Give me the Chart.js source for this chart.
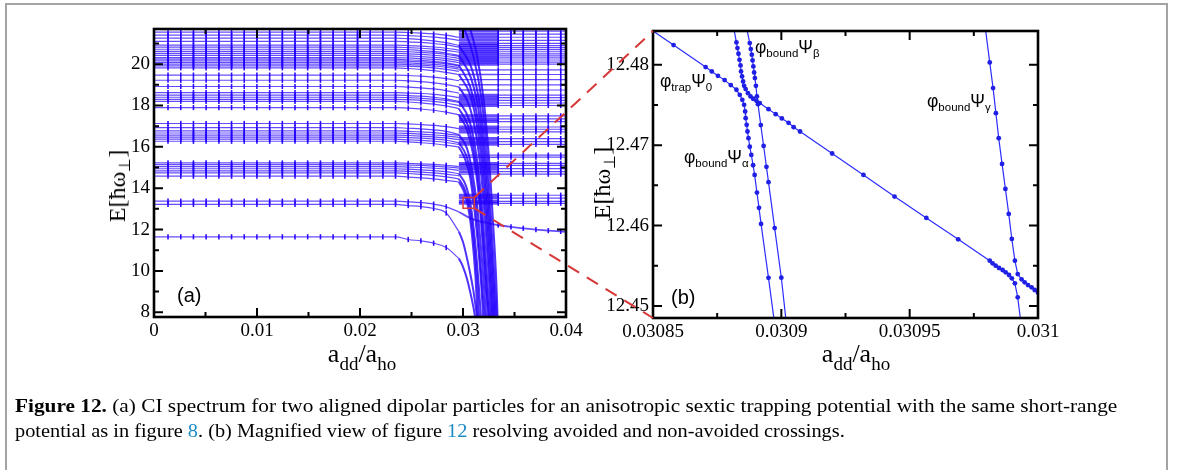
<!DOCTYPE html>
<html>
<head>
<meta charset="utf-8">
<script src="https://cdn.jsdelivr.net/npm/chart.js"></script>
<style>
body { margin:0; background:#fff; width:1179px; height:470px; overflow:hidden; position:relative; font-family:"Liberation Serif", serif; }
#frame { position:absolute; left:5px; top:3px; width:1159px; height:490px; border:2px solid #a3a3a3; border-bottom:none; }
canvas { position:absolute; top:0; }
.t { position:absolute; white-space:nowrap; line-height:1; color:#000; }
.ttl { font-size:26px; transform:translateX(-50%); }
.ttl sub { font-size:19px; vertical-align:-8px; }
.ytl { font-size:24px; transform:translate(-50%,-50%) rotate(-90deg); }
.ytl sub { font-size:16px; vertical-align:-5px; }
.lab { font-family:"Liberation Sans", sans-serif; font-size:17.5px; }
.lab sub { font-size:11.5px; vertical-align:-4px; }
.pl { font-family:"Liberation Sans", sans-serif; font-size:20px; }
#caption { position:absolute; left:15px; top:394px; font-size:18.5px; line-height:25px; }
#caption .ln { display:inline-block; white-space:nowrap; transform-origin:0 0; }
#caption .ref { color:#1b8bc4; }
</style>
</head>
<body>
<div id="frame"></div>
<canvas id="ca" width="600" height="370" style="left:0"></canvas>
<canvas id="cb" width="579" height="370" style="left:600px"></canvas>
<canvas id="ov" width="1179" height="470" style="left:0;pointer-events:none"></canvas>

<div class="t ytl" style="left:119px;top:186px">E[ħω<sub>⊥</sub>]</div>
<div class="t ytl" style="left:604px;top:183px">E[ħω<sub>⊥</sub>]</div>
<div class="t ttl" style="left:362px;top:341px">a<sub>dd</sub>/a<sub>ho</sub></div>
<div class="t ttl" style="left:856px;top:341px">a<sub>dd</sub>/a<sub>ho</sub></div>
<div class="t pl" style="left:177px;top:285px">(a)</div>
<div class="t pl" style="left:671px;top:287px">(b)</div>
<div class="t lab" style="left:660px;top:73px">φ<sub>trap</sub>Ψ<sub>0</sub></div>
<div class="t lab" style="left:755px;top:39px">φ<sub>bound</sub>Ψ<sub>β</sub></div>
<div class="t lab" style="left:684px;top:149px">φ<sub>bound</sub>Ψ<sub>α</sub></div>
<div class="t lab" style="left:927px;top:93px">φ<sub>bound</sub>Ψ<sub>γ</sub></div>

<div id="caption">
<span class="ln" data-w="1102"><b>Figure 12.</b> (a) CI spectrum for two aligned dipolar particles for an anisotropic sextic trapping potential with the same short-range</span><br>
<span class="ln" data-w="830">potential as in figure <span class="ref">8</span>. (b) Magnified view of figure <span class="ref">12</span> resolving avoided and non-avoided crossings.</span>
</div>

<script>
// ---------- panel (a) : CI spectrum ----------
// x positions of the marker columns
const colsLeft = [0, 0.00136, 0.0026, 0.00383, 0.00506, 0.0063, 0.00753, 0.00876, 0.00999, 0.01123, 0.01246,
  0.01369, 0.01492, 0.01616, 0.01739, 0.01853, 0.01976, 0.02099, 0.02222, 0.02345];
const tailX = [0.02468, 0.02591, 0.02715, 0.02837, 0.0296];
const colsRight = [0.0296, 0.03342, 0.03466, 0.03585, 0.03708, 0.03828, 0.03949, 0.0401];

// left levels: [E at x=0, then E at each tailX]
const band12 = [[11.65, 11.52, 11.45, 11.34, 11.13, 10.6]];
const band13 = [[13.22, 13.16, 13.11, 13.02, 12.8, 11.9], [13.37, 13.34, 13.3, 13.23, 13.1, 12.85]];
const band15 = [[14.58, 14.54, 14.5, 14.45, 14.38, 14.3], [14.74, 14.71, 14.67, 14.62, 14.55, 14.45],
  [14.84, 14.81, 14.78, 14.74, 14.68, 14.6], [14.94, 14.92, 14.89, 14.85, 14.8, 14.7],
  [15.04, 15.02, 15.0, 14.97, 14.93, 14.86], [15.14, 15.12, 15.1, 15.07, 15.03, 14.97],
  [15.22, 15.2, 15.18, 15.15, 15.11, 15.05]];
const band17 = [[16.27, 16.24, 16.2, 16.15, 16.08, 16.0], [16.37, 16.34, 16.31, 16.27, 16.21, 16.12],
  [16.47, 16.45, 16.42, 16.38, 16.32, 16.2], [16.57, 16.55, 16.52, 16.48, 16.43, 16.35],
  [16.67, 16.65, 16.62, 16.58, 16.53, 16.45], [16.77, 16.75, 16.72, 16.69, 16.63, 16.55],
  [16.93, 16.9, 16.87, 16.82, 16.75, 16.6], [17.13, 17.11, 17.08, 17.04, 16.98, 16.88]];
const band18 = [[17.9, 17.87, 17.83, 17.77, 17.68, 17.55], [18.2, 18.17, 18.13, 18.07, 17.98, 17.85],
  [18.3, 18.28, 18.25, 18.2, 18.12, 18.0], [18.4, 18.38, 18.35, 18.31, 18.25, 18.15],
  [18.5, 18.48, 18.45, 18.4, 18.32, 18.2], [18.62, 18.6, 18.58, 18.54, 18.48, 18.38],
  [18.92, 18.89, 18.85, 18.8, 18.72, 18.6], [19.22, 19.19, 19.15, 19.09, 19.01, 18.9],
  [19.47, 19.45, 19.42, 19.37, 19.3, 19.2]];
const band20 = [[19.82, 19.79, 19.75, 19.69, 19.6, 19.5], [19.92, 19.9, 19.87, 19.82, 19.75, 19.65],
  [20.0, 19.98, 19.95, 19.91, 19.85, 19.76], [20.08, 20.06, 20.03, 19.99, 19.93, 19.84],
  [20.16, 20.14, 20.11, 20.07, 20.01, 19.92], [20.24, 20.21, 20.18, 20.13, 20.06, 19.95],
  [20.32, 20.3, 20.27, 20.23, 20.17, 20.08], [20.42, 20.4, 20.37, 20.33, 20.27, 20.18],
  [20.52, 20.5, 20.47, 20.43, 20.37, 20.28], [20.62, 20.6, 20.57, 20.53, 20.47, 20.38],
  [20.72, 20.7, 20.66, 20.61, 20.54, 20.42], [20.82, 20.8, 20.77, 20.73, 20.67, 20.58],
  [20.92, 20.9, 20.87, 20.83, 20.77, 20.68], [21.1, 21.08, 21.05, 21.0, 20.93, 20.82],
  [21.26, 21.23, 21.19, 21.13, 21.04, 20.9], [21.4, 21.38, 21.35, 21.31, 21.25, 21.15],
  [21.55, 21.53, 21.5, 21.46, 21.4, 21.3]];

// levels right of the crossing region
const rightDense = [13.27, 13.36, 13.52, 13.66, 14.8, 14.95, 15.1, 15.2, 16.12, 16.25, 16.4, 16.72, 16.85, 16.96,
  17.22, 17.35, 17.5, 18.0, 18.12, 18.25, 18.38, 18.5, 20.0, 20.1, 20.2, 20.3, 20.4, 20.5, 20.6, 20.7, 20.8,
  20.9, 21.0, 21.15, 21.3, 21.45, 21.6];
const rightSparse = [14.68, 15.5, 15.6, 18.75, 19.0, 19.25, 19.5, 19.72];

// trap state after the crossings
const trapX = [0.0296, 0.031, 0.0325, 0.03342, 0.03466, 0.03585, 0.03708, 0.03828, 0.03949, 0.0401];
const trapY = [12.85, 12.49, 12.3, 12.22, 12.13, 12.06, 12.0, 11.95, 11.91, 11.89];

// diving bound states [x, E]
const dives = [
  [[0.0296, 10.6], [0.03, 10.2], [0.0304, 9.6], [0.0308, 8.75], [0.0311, 8.0], [0.0313, 7.3]],
  [[0.0296, 11.9], [0.03, 11.4], [0.0305, 10.36], [0.031, 9.07], [0.0313, 8.0], [0.0315, 7.3]],
  [[0.0296, 14.3], [0.0302, 13.7], [0.0306, 12.8], [0.0309, 11.6], [0.0312, 9.8], [0.03145, 7.4]],
  [[0.0296, 14.45], [0.0302, 13.9], [0.0307, 12.9], [0.0311, 11.2], [0.0314, 9.3], [0.0316, 7.4]],
  [[0.0296, 14.7], [0.0303, 14.1], [0.0308, 13.0], [0.0312, 11.3], [0.0315, 9.5], [0.0318, 7.4]],
  [[0.0296, 16.0], [0.0302, 15.4], [0.0307, 14.5], [0.0311, 13.0], [0.0315, 11.0], [0.0318, 9.1], [0.032, 7.4]],
  [[0.0296, 16.2], [0.0303, 15.6], [0.0308, 14.6], [0.0312, 13.2], [0.0316, 11.0], [0.0319, 9.0], [0.0322, 7.4]],
  [[0.0296, 16.6], [0.0304, 15.9], [0.0309, 14.8], [0.0314, 13.0], [0.0318, 10.8], [0.0321, 8.8], [0.0323, 7.4]],
  [[0.0296, 17.55], [0.0304, 16.8], [0.031, 15.6], [0.0315, 13.8], [0.0319, 11.4], [0.0322, 9.2], [0.0325, 7.4]],
  [[0.0296, 17.85], [0.0305, 17.0], [0.0311, 15.7], [0.0316, 13.8], [0.032, 11.3], [0.0323, 9.1], [0.0326, 7.4]],
  [[0.0296, 18.2], [0.0306, 17.3], [0.0312, 15.9], [0.0317, 13.9], [0.0321, 11.4], [0.0324, 9.2], [0.0327, 7.4]],
  [[0.0296, 18.9], [0.0306, 18.0], [0.0313, 16.5], [0.0318, 14.5], [0.0322, 12.0], [0.0326, 9.0], [0.0328, 7.4]],
  [[0.0296, 19.5], [0.0307, 18.5], [0.0314, 16.9], [0.0319, 14.8], [0.0323, 12.2], [0.0327, 9.1], [0.0329, 7.4]],
  [[0.0296, 19.95], [0.0307, 18.9], [0.0315, 17.2], [0.032, 15.0], [0.0324, 12.3], [0.0328, 9.1], [0.033, 7.4]],
  [[0.0296, 20.42], [0.0308, 19.3], [0.0316, 17.5], [0.0321, 15.2], [0.0325, 12.4], [0.0329, 9.2], [0.0331, 7.4]],
  [[0.0296, 20.9], [0.0309, 19.7], [0.0317, 17.8], [0.0322, 15.4], [0.0326, 12.5], [0.033, 9.2], [0.0332, 7.4]],
  [[0.03, 21.9], [0.031, 20.4], [0.0318, 18.3], [0.0323, 15.8], [0.0327, 12.7], [0.0331, 9.3], [0.0333, 7.4]],
  [[0.0306, 21.9], [0.0314, 20.3], [0.032, 18.3], [0.0325, 15.6], [0.0329, 12.5], [0.03325, 9.3], [0.03338, 7.4]]
];

// magnified region marker
const zoomBoxX = [0.03, 0.0311];
const zoomBoxY = [13.03, 13.55];

const xTicksA = [0, 0.01, 0.02, 0.03, 0.04];
const xMinorA = [0.005, 0.015, 0.025, 0.035];
const yTicksA = [8, 10, 12, 14, 16, 18, 20];
const yMinorA = [9, 11, 13, 15, 17, 19, 21];

// ---------- panel (b) : magnified view ----------
const curveAX = [0.030845, 0.030858, 0.0308705, 0.0308729, 0.0308753, 0.0308779, 0.0308803, 0.0308825, 0.0308838,
  0.0308848, 0.0308855, 0.0308859, 0.0308861, 0.0308865, 0.0308868, 0.0308872, 0.0308877, 0.0308883, 0.030889,
  0.0308896, 0.0308905, 0.0308913, 0.0308921, 0.030895, 0.0308975];
const curveAY = [12.4853, 12.48245, 12.47971, 12.47917, 12.47863, 12.47809, 12.47747, 12.47689, 12.47626,
  12.47564, 12.47502, 12.47419, 12.47336, 12.47253, 12.4717, 12.47087, 12.4698, 12.46879, 12.4675,
  12.4663, 12.4641, 12.4622, 12.4602, 12.4535, 12.4475];
const curveBX = [0.0308815, 0.0308825, 0.0308829, 0.0308833, 0.0308837, 0.0308841, 0.0308843, 0.0308847, 0.0308851,
  0.0308855, 0.0308861, 0.030887, 0.030888, 0.030889, 0.0308903, 0.0308916, 0.030895, 0.0308978, 0.0309002,
  0.0309028, 0.0309048, 0.0309073, 0.0309198, 0.030932, 0.0309441, 0.0309565, 0.0309689, 0.0309812, 0.0309823,
  0.0309835, 0.0309848, 0.0309862, 0.0309874, 0.0309887, 0.0309898, 0.030991, 0.0309921, 0.0309935];
const curveBY = [12.4845, 12.48278, 12.48208, 12.48137, 12.48062, 12.47992, 12.47917, 12.47855, 12.47792,
  12.47738, 12.47697, 12.47647, 12.47606, 12.47577, 12.47552, 12.47523, 12.47448, 12.47386, 12.47332,
  12.47278, 12.47224, 12.4717, 12.46896, 12.4663, 12.4636, 12.46095, 12.45829, 12.45563, 12.4553,
  12.45501, 12.45472, 12.45447, 12.45418, 12.45385, 12.45343, 12.45281, 12.45107, 12.4475];
const curveCX = [0.0309795, 0.0309812, 0.0309825, 0.0309836, 0.0309847, 0.030986, 0.0309873, 0.0309886, 0.0309898,
  0.030991, 0.0309921, 0.0309936, 0.0309948, 0.0309961, 0.0309975, 0.0309987, 0.031, 0.031006];
const curveCY = [12.4845, 12.48029, 12.4771, 12.47398, 12.47087, 12.46767, 12.46456, 12.46145, 12.45833,
  12.45563, 12.45397, 12.45331, 12.45294, 12.4526, 12.45231, 12.45198, 12.45165, 12.4515];
const betaX = [0.0308862, 0.0308877, 0.0308881, 0.0308885, 0.0308888, 0.0308891, 0.0308894, 0.0308897, 0.0308901,
  0.0308905, 0.0308909, 0.030892, 0.0308931, 0.0308942, 0.030895, 0.0308974, 0.0309, 0.030902];
const betaY = [12.485, 12.4827, 12.48195, 12.48125, 12.48054, 12.47979, 12.47905, 12.47834, 12.47738,
  12.47606, 12.4751, 12.4725, 12.4699, 12.4673, 12.4654, 12.45968, 12.45351, 12.4477];

const xTicksB = [0.03085, 0.0309, 0.03095, 0.031];
const xMinorB = [0.030875, 0.030925, 0.030975];
const yTicksB = [12.45, 12.46, 12.47, 12.48];
const yMinorB = [12.455, 12.465, 12.475];

// ---------- drawing ----------
const lineBlue = 'rgba(35,0,255,0.7)';
const markBlue = 'rgba(35,0,255,0.95)';
const tickFont = { family: 'Liberation Serif', size: 19 };

const setsA = [];
[band12, band13, band15, band17, band18, band20].forEach(band => band.forEach(row => {
  const data = colsLeft.map(x => ({ x, y: row[0] }));
  tailX.forEach((x, i) => data.push({ x, y: row[i + 1] }));
  const last = data.length - 1;
  setsA.push({ data, showLine: true, borderColor: lineBlue, borderWidth: 1.2, cubicInterpolationMode: 'monotone',
    pointStyle: 'line', pointRotation: 90, pointBorderColor: markBlue, pointBorderWidth: 1.6,
    pointRadius: c => (c.dataIndex === 0 || c.dataIndex === last) ? 0 : 2.6 });
}));
const rightSet = (e, w) => ({
  data: colsRight.map(x => ({ x, y: e })), showLine: true, borderColor: lineBlue, borderWidth: 1.2,
  segment: { borderWidth: c => c.p0DataIndex === 0 ? w : 1.2 },
  pointStyle: 'line', pointRotation: 90, pointBorderColor: markBlue, pointBorderWidth: 1.6,
  pointRadius: c => c.dataIndex === 0 ? 0 : 2.6
});
rightDense.forEach(e => setsA.push(rightSet(e, 3)));
rightSparse.forEach(e => setsA.push(rightSet(e, 1.4)));
setsA.push({ data: trapX.map((x, i) => ({ x, y: trapY[i] })), showLine: true, borderColor: lineBlue, borderWidth: 1.8,
  cubicInterpolationMode: 'monotone', pointStyle: 'line', pointRotation: 90, pointBorderColor: markBlue,
  pointBorderWidth: 1.6, pointRadius: c => c.dataIndex < 3 ? 0 : 2.6 });
dives.forEach(d => setsA.push({ data: d.map(p => ({ x: p[0], y: p[1] })), showLine: true, borderColor: 'rgba(35,0,255,0.8)',
  borderWidth: 2, cubicInterpolationMode: 'monotone', pointRadius: 0 }));

const frameTicks = {
  id: 'frameTicks',
  afterDatasetsDraw(chart, args, o) {
    const { ctx, chartArea: a, scales: { x, y } } = chart;
    ctx.save();
    ctx.strokeStyle = '#000';
    ctx.lineWidth = 2;
    ctx.beginPath();
    const vt = (vals, len) => vals.forEach(v => {
      const px = x.getPixelForValue(v);
      ctx.moveTo(px, a.bottom); ctx.lineTo(px, a.bottom - len);
      ctx.moveTo(px, a.top); ctx.lineTo(px, a.top + len);
    });
    const ht = (vals, len) => vals.forEach(v => {
      const py = y.getPixelForValue(v);
      ctx.moveTo(a.left, py); ctx.lineTo(a.left + len, py);
      ctx.moveTo(a.right, py); ctx.lineTo(a.right - len, py);
    });
    vt(o.xMajor, 9); vt(o.xMinor, 5); ht(o.yMajor, 9); ht(o.yMinor, 5);
    ctx.stroke();
    ctx.lineWidth = 2.6;
    ctx.strokeRect(a.left, a.top, a.right - a.left, a.bottom - a.top);
    ctx.restore();
  }
};
const zoomBox = {
  id: 'zoomBox',
  afterDatasetsDraw(chart) {
    const { ctx, scales: { x, y } } = chart;
    ctx.save();
    ctx.strokeStyle = 'rgb(220,60,60)';
    ctx.lineWidth = 1.5;
    const x0 = x.getPixelForValue(zoomBoxX[0]), x1 = x.getPixelForValue(zoomBoxX[1]);
    const y0 = y.getPixelForValue(zoomBoxY[1]), y1 = y.getPixelForValue(zoomBoxY[0]);
    ctx.strokeRect(x0, y0, x1 - x0, y1 - y0);
    ctx.restore();
  }
};

function axes(xMin, xMax, xT, yMin, yMax, yT, xh, yw) {
  return {
    x: { type: 'linear', min: xMin, max: xMax, grid: { display: false, drawTicks: false }, border: { display: false },
      ticks: { font: tickFont, color: '#000', padding: 3, maxRotation: 0, autoSkip: false, callback: v => String(v) },
      afterBuildTicks: s => { s.ticks = xT.map(v => ({ value: v })); },
      afterFit: s => { s.height = xh; } },
    y: { type: 'linear', min: yMin, max: yMax, grid: { display: false, drawTicks: false }, border: { display: false },
      ticks: { font: tickFont, color: '#000', padding: 4, autoSkip: false, callback: v => String(v) },
      afterBuildTicks: s => { s.ticks = yT.map(v => ({ value: v })); },
      afterFit: s => { s.width = yw; } }
  };
}

const chartA = new Chart(document.getElementById('ca'), {
  type: 'scatter',
  data: { datasets: setsA },
  options: {
    responsive: false, animation: false, events: [],
    layout: { padding: { left: 0, top: 29, right: 34, bottom: 0 } },
    plugins: { legend: { display: false }, tooltip: { enabled: false },
      frameTicks: { xMajor: xTicksA, xMinor: xMinorA, yMajor: yTicksA, yMinor: yMinorA } },
    scales: axes(0, 0.04, xTicksA, 7.77, 21.7, yTicksA, 53, 154)
  },
  plugins: [zoomBox, frameTicks]
});

const bLine = 'rgb(45,45,255)';
const dotSet = (xs, ys) => ({
  data: xs.map((x, i) => ({ x, y: ys[i] })), showLine: true, borderColor: bLine, borderWidth: 1.2,
  pointRadius: 2.4, pointBackgroundColor: '#1f1fe6', pointBorderWidth: 0
});
const chartB = new Chart(document.getElementById('cb'), {
  type: 'scatter',
  data: { datasets: [dotSet(curveAX, curveAY), dotSet(curveBX, curveBY), dotSet(curveCX, curveCY), dotSet(betaX, betaY)] },
  options: {
    responsive: false, animation: false, events: [],
    layout: { padding: { left: 0, top: 31, right: 141, bottom: 0 } },
    plugins: { legend: { display: false }, tooltip: { enabled: false },
      frameTicks: { xMajor: xTicksB, xMinor: xMinorB, yMajor: yTicksB, yMinor: yMinorB } },
    scales: axes(0.03085, 0.031, xTicksB, 12.4485, 12.4842, yTicksB, 52, 53)
  },
  plugins: [frameTicks]
});

// dashed connectors from the box in (a) to the corners of (b)
const g = document.getElementById('ov').getContext('2d');
const bx = chartA.scales.x.getPixelForValue(zoomBoxX[1]);
const bTop = chartA.scales.y.getPixelForValue(zoomBoxY[1]);
const bBot = chartA.scales.y.getPixelForValue(zoomBoxY[0]);
const cb = chartB.chartArea, offB = 600;
g.strokeStyle = 'rgb(215,55,55)';
g.lineWidth = 2;
g.setLineDash([13, 9]);
g.beginPath();
g.moveTo(bx, bTop); g.lineTo(offB + cb.left, cb.top);
g.moveTo(bx, bBot); g.lineTo(offB + cb.left, cb.bottom);
g.stroke();

// caption lines stretched to the printed widths
document.querySelectorAll('#caption .ln').forEach(el => {
  el.style.transform = 'scaleX(' + (+el.dataset.w / el.offsetWidth) + ')';
});
</script>
</body>
</html>
